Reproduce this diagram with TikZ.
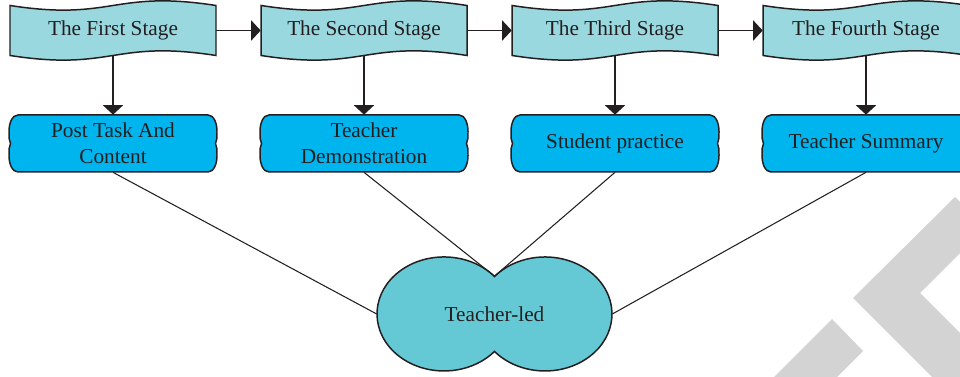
\documentclass[tikz,border=0pt]{standalone}
\usepackage{fontspec}
\setmainfont{Liberation Serif}
\usepackage{xcolor}
\usepackage{tikz}
\usetikzlibrary{arrows.meta,backgrounds}
\definecolor{ink}{HTML}{231F20}
\definecolor{stagefill}{HTML}{9AD8E0}
\definecolor{taskfill}{HTML}{00B4EE}
\definecolor{leadfill}{HTML}{65C9D5}
\definecolor{wmgray}{HTML}{D3D3D3}
\tikzset{
  lbl/.style={text=ink, font=\fontsize{12.1}{14.7}\selectfont, align=center, inner sep=0pt},
  stage/.style={lbl, minimum width=4.12cm, minimum height=1cm},
  task/.style={lbl, minimum width=4.16cm, minimum height=1.14cm},
  lead/.style={lbl, minimum width=4.7cm, minimum height=1.5cm},
  outline/.style={draw=ink, line width=0.85pt},
  line/.style={draw=ink, line width=0.6pt},
  arrowline/.style={draw=ink, line width=0.6pt, -{Triangle[length=5.4pt, width=11.5pt]}}
}

\begin{document}
\begin{tikzpicture}[x=0.02cm, y=-0.02cm]
  \useasboundingbox (0,0) rectangle (960,377);
  \node[stage] (s1) at (113,30.5) {The First Stage};
  \node[stage] (s2) at (364,30.5) {The Second Stage};
  \node[stage] (s3) at (615,30.5) {The Third Stage};
  \node[stage] (s4) at (866,30.5) {The Fourth Stage};
  \node[task] (t1) at (113,143.5) {Post Task And\\Content};
  \node[task] (t2) at (364,143.5) {Teacher\\Demonstration};
  \node[task] (t3) at (615,143.5) {Student practice};
  \node[task] (t4) at (866,143.5) {Teacher Summary};
  \node[lead] (led) at (494.5,314) {Teacher-led};
  \begin{scope}[on background layer]
    \fill[wmgray] (832,319) -- (863,351) -- (837,377) -- (774,377) -- cycle;
    \fill[wmgray] (955,197) -- (853,298) -- (932,377) -- (1004,377) -- (920,293) -- (986,227) -- cycle;
    \foreach \n in {s1,s2,s3,s4}{
      \begin{scope}[shift={(\n.center)}]
        \draw[outline, fill=stagefill] (-103,-25) .. controls +(103,16) and +(-103,-16) .. (103,-25)
          -- (103,25) .. controls +(-103,-16) and +(103,16) .. (-103,25) -- cycle;
      \end{scope}
    }
    \foreach \n in {t1,t2,t3,t4}{
      \begin{scope}[shift={(\n.center)}]
        \draw[outline, fill=taskfill] (-95,-28.5) -- (95,-28.5)
          .. controls +(6,0) and +(0,-8) .. (104,-12)
          .. controls +(0,6) and +(1.5,-3) .. (102.5,0)
          .. controls +(1.5,3) and +(0,-6) .. (104,12)
          .. controls +(0,8) and +(6,0) .. (95,28.5)
          -- (-95,28.5)
          .. controls +(-6,0) and +(0,8) .. (-104,12)
          .. controls +(0,-6) and +(-1.5,3) .. (-102.5,0)
          .. controls +(-1.5,-3) and +(0,6) .. (-104,-12)
          .. controls +(0,-8) and +(-6,0) .. (-95,-28.5) -- cycle;
      \end{scope}
    }
    \begin{scope}[shift={(led.center)}]
      \draw[outline, fill=leadfill] (0,-37.5)
        arc[start angle=-41.1, end angle=-318.9, x radius=67, y radius=57]
        arc[start angle=138.9, end angle=-138.9, x radius=67, y radius=57] -- cycle;
    \end{scope}
  \end{scope}
  \draw[arrowline] (s1.east) -- (s2.west);
  \draw[arrowline] (s2.east) -- (s3.west);
  \draw[arrowline] (s3.east) -- (s4.west);
  \draw[arrowline] (s1.south) -- (t1.north);
  \draw[arrowline] (s2.south) -- (t2.north);
  \draw[arrowline] (s3.south) -- (t3.north);
  \draw[arrowline] (s4.south) -- (t4.north);
  \draw[line] (t1.south) -- (led.west);
  \draw[line] (t2.south) -- (led.north);
  \draw[line] (t3.south) -- (led.north);
  \draw[line] (t4.south) -- (led.east);
\end{tikzpicture}
\end{document}
